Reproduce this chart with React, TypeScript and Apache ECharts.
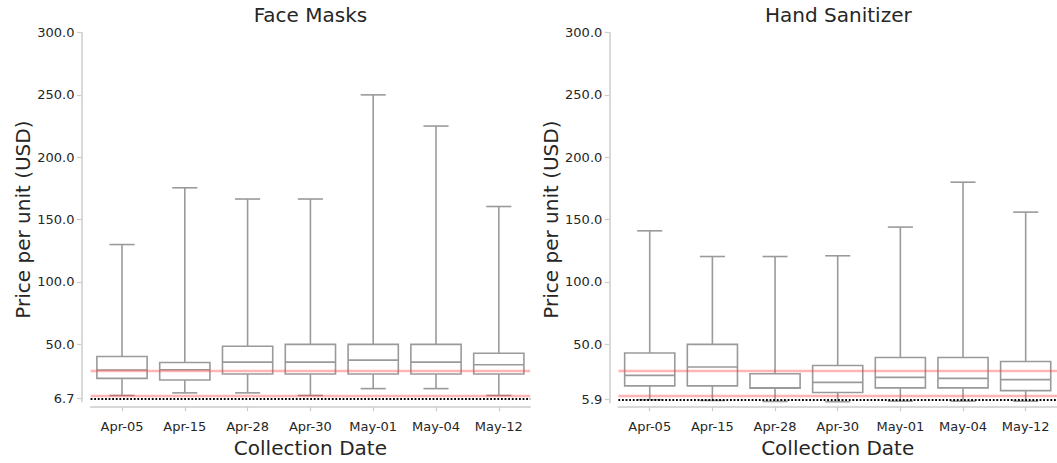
import React, { useEffect, useRef } from 'react';
import * as echarts from 'echarts';

const categories = ['Apr-05', 'Apr-15', 'Apr-28', 'Apr-30', 'May-01', 'May-04', 'May-12'];

// Face Masks: whisker low, Q1, median, Q3, whisker high
const maskLow = [9.0, 11.1, 11.1, 9.0, 14.5, 14.5, 9.0];
const maskQ1 = [22.7, 21.4, 26.2, 26.2, 26.2, 26.2, 26.2];
const maskMedian = [29.4, 29.6, 35.7, 35.7, 37.3, 35.7, 33.6];
const maskQ3 = [40.2, 35.4, 48.5, 50.0, 50.0, 50.0, 42.9];
const maskHigh = [130, 175.5, 166.5, 166.5, 250, 225, 160.5];
const maskRedLines = [28.7, 8.4];
const maskFloor = 6.7;

// Hand Sanitizer
const sanLow = [5.6, 5.0, 4.2, 4.0, 4.4, 4.4, 4.4];
const sanQ1 = [16.7, 16.7, 14.8, 11.4, 15.1, 15.1, 12.9];
const sanMedian = [25.1, 31.8, 15.2, 19.5, 23.5, 22.7, 21.7];
const sanQ3 = [43.1, 50.0, 26.4, 33.0, 39.4, 39.4, 36.2];
const sanHigh = [141, 120.4, 120.4, 121, 144, 180, 156];
const sanRedLines = [28.8, 8.4];
const sanFloor = 5.9;

const titles = ['Face Masks', 'Hand Sanitizer'];
const yTickValues = [50, 100, 150, 200, 250, 300];

const FONT = 'DejaVu Sans';
const TEXT = '#262626';
const SPINE = '#cccccc';
const BOX = '#9a9a9a';

export default function App() {
  const ref = useRef<HTMLDivElement>(null);
  useEffect(() => {
    if (!ref.current) return;
    const chart = echarts.init(ref.current, null, { renderer: 'svg' });

    const panels = [
      { low: maskLow, q1: maskQ1, med: maskMedian, q3: maskQ3, high: maskHigh, red: maskRedLines, floor: maskFloor, left: 90.6, width: 439.6, spineLeft: 81.5 },
      { low: sanLow, q1: sanQ1, med: sanMedian, q3: sanQ3, high: sanHigh, red: sanRedLines, floor: sanFloor, left: 618.4, width: 439.9, spineLeft: 609.3 },
    ];
    const top = 32.5;
    const height = 377.8;
    const yMax = 300;

    const grids: any[] = [];
    const xAxes: any[] = [];
    const yAxes: any[] = [];
    const series: any[] = [];
    const graphics: any[] = [];

    panels.forEach((p, i) => {
      grids.push({ left: p.left, top, width: p.width, height, containLabel: false });
      const floorPx = top + height * (1 - p.floor / yMax);
      grids.push({ left: p.spineLeft, top, width: 5, height: floorPx - top, containLabel: false });
      const mainIdx = i * 2;
      const spineIdx = i * 2 + 1;
      const ticks = [p.floor, ...yTickValues];

      xAxes.push({
        gridIndex: mainIdx,
        type: 'category',
        data: categories,
        boundaryGap: true,
        offset: 8.4,
        axisLine: { show: true, lineStyle: { color: SPINE, width: 1.5 } },
        axisTick: { show: true, alignWithLabel: true, length: 4.5, lineStyle: { color: SPINE, width: 1.2 } },
        axisLabel: { fontSize: 13, color: TEXT, fontFamily: FONT, margin: 5, interval: 0 },
        name: 'Collection Date',
        nameLocation: 'middle',
        nameGap: 21,
        nameTextStyle: { fontSize: 20, color: TEXT, fontFamily: FONT },
        splitLine: { show: false },
      });
      xAxes.push({ gridIndex: spineIdx, type: 'value', show: false, min: 0, max: 1 });

      yAxes.push({
        gridIndex: mainIdx,
        type: 'value',
        min: 0,
        max: yMax,
        offset: p.left - p.spineLeft,
        axisLine: { show: false },
        axisTick: { show: true, length: 4.5, customValues: ticks, lineStyle: { color: SPINE, width: 1.2 } },
        axisLabel: {
          show: true,
          customValues: ticks,
          fontSize: 13,
          color: TEXT,
          fontFamily: FONT,
          margin: 7,
          formatter: (v: number) => v.toFixed(1),
        },
        splitLine: { show: false },
        name: 'Price per unit (USD)',
        nameLocation: 'middle',
        nameGap: 48,
        nameTextStyle: { fontSize: 20, color: TEXT, fontFamily: FONT },
      });
      yAxes.push({
        gridIndex: spineIdx,
        type: 'value',
        min: p.floor,
        max: yMax,
        axisLine: { show: true, lineStyle: { color: SPINE, width: 1.5 } },
        axisTick: { show: false },
        axisLabel: { show: false },
        splitLine: { show: false },
      });

      const data = categories.map((_, k) => [k, p.low[k], p.q1[k], p.med[k], p.q3[k], p.high[k]]);
      series.push({
        type: 'custom',
        xAxisIndex: mainIdx,
        yAxisIndex: mainIdx,
        encode: { x: 0, y: [1, 2, 3, 4, 5] },
        data,
        z: 2,
        renderItem: (params: any, api: any) => {
          const x = api.value(0);
          const lo = api.coord([x, api.value(1)]);
          const q1 = api.coord([x, api.value(2)]);
          const md = api.coord([x, api.value(3)]);
          const q3 = api.coord([x, api.value(4)]);
          const hi = api.coord([x, api.value(5)]);
          const band = api.size([1, 0])[0];
          const bw = band * 0.8;
          const cw = band * 0.4;
          const cx = q1[0];
          const st = { stroke: BOX, lineWidth: 1.6, fill: 'none' };
          return {
            type: 'group',
            children: [
              { type: 'line', shape: { x1: cx, y1: q3[1], x2: cx, y2: hi[1] }, style: st },
              { type: 'line', shape: { x1: cx, y1: q1[1], x2: cx, y2: lo[1] }, style: st },
              { type: 'line', shape: { x1: cx - cw / 2, y1: hi[1], x2: cx + cw / 2, y2: hi[1] }, style: st },
              { type: 'line', shape: { x1: cx - cw / 2, y1: lo[1], x2: cx + cw / 2, y2: lo[1] }, style: st },
              { type: 'rect', shape: { x: cx - bw / 2, y: q3[1], width: bw, height: q1[1] - q3[1] }, style: { fill: '#ffffff', stroke: BOX, lineWidth: 1.6 } },
              { type: 'line', shape: { x1: cx - bw / 2, y1: md[1], x2: cx + bw / 2, y2: md[1] }, style: st },
            ],
          };
        },
      });
      series.push({
        type: 'line',
        xAxisIndex: mainIdx,
        yAxisIndex: mainIdx,
        data: [],
        z: 5,
        silent: true,
        markLine: {
          silent: true,
          symbol: 'none',
          label: { show: false },
          animation: false,
          data: [
            ...p.red.map((v) => ({ yAxis: v, lineStyle: { color: 'rgba(255,60,60,0.38)', width: 2.4, type: 'solid' } })),
            { yAxis: p.floor, lineStyle: { color: '#000000', width: 1.8, type: [1.8, 1.8] } },
          ],
        },
      });

      graphics.push({
        type: 'text',
        x: p.left + p.width / 2,
        y: 5,
        style: { text: titles[i], fontSize: 20, fontFamily: FONT, fill: TEXT, align: 'center', verticalAlign: 'top' },
      });
    });

    chart.setOption({
      animation: false,
      backgroundColor: '#ffffff',
      textStyle: { fontFamily: FONT },
      grid: grids,
      xAxis: xAxes,
      yAxis: yAxes,
      series,
      graphic: graphics,
    });
    return () => chart.dispose();
  }, []);
  return <div ref={ref} style={{ position: 'fixed', left: 0, top: 0, width: 1057, height: 463 }} />;
}
